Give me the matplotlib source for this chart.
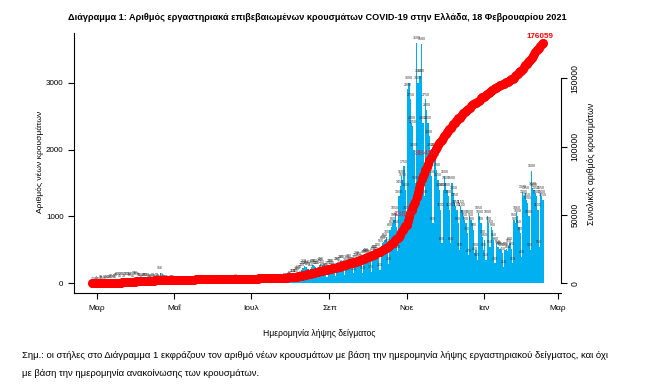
import numpy as np
import pandas as pd
import matplotlib
matplotlib.use("Agg")
import matplotlib.pyplot as plt
import matplotlib.dates as mdates

plt.rcParams["font.family"] = ["Liberation Sans", "DejaVu Sans"]

# daily new cases by sampling date, one list per month
feb20 = [1, 2, 0, 4]
mar20 = [2, 0, 3, 19, 15, 9, 32, 7, 20, 26, 18, 37, 32, 41, 25, 60, 65, 70, 45, 70,
         75, 38, 71, 70, 72, 75, 60, 70, 45, 80, 70]
apr20 = [80, 75, 50, 50, 22, 62, 60, 56, 50, 60, 40, 20, 45, 60, 40, 25, 50, 40, 18, 156,
         55, 45, 22, 28, 25, 12, 13, 26, 21, 20]
may20 = [15, 10, 4, 9, 14, 12, 16, 15, 8, 3, 11, 16, 10, 13, 9, 5, 2, 13, 17, 21,
         9, 12, 6, 3, 8, 10, 12, 11, 7, 4, 2]
jun20 = [10, 13, 15, 12, 8, 11, 4, 14, 17, 10, 12, 11, 16, 3, 8, 9, 18, 22, 33, 14,
         6, 19, 27, 20, 15, 18, 21, 11, 24, 26]
jul20 = [18, 25, 30, 22, 9, 27, 33, 25, 31, 24, 37, 10, 28, 29, 26, 19, 27, 31, 12, 33,
         40, 35, 28, 36, 41, 16, 45, 50, 57, 48, 70]
aug20 = [90, 45, 110, 120, 115, 150, 160, 170, 80, 200, 230, 260, 240, 250, 220, 110, 210, 250, 270, 260,
         240, 230, 100, 280, 290, 250, 210, 200, 190, 90, 230]
sep20 = [270, 260, 230, 200, 190, 110, 290, 300, 250, 330, 320, 240, 130, 280, 330, 340, 300, 290, 250, 150,
         320, 350, 380, 370, 340, 300, 160, 400, 420, 430]
oct20 = [420, 400, 330, 170, 450, 480, 470, 440, 500, 400, 200, 560, 610, 620, 650, 700, 560, 290, 800, 850,
         900, 950, 1050, 850, 480, 1300, 1450, 1600, 1550, 1750, 1400]
nov20 = [1050, 2900, 3000, 2750, 2400, 2350, 2000, 1500, 3600, 3000, 3100, 3100, 3580, 2400, 1300, 2750, 2600, 2400, 2200, 2000,
         1600, 900, 2000, 1850, 1700, 1550, 1400, 1100, 600, 1400]
dec20 = [1600, 1500, 1400, 1300, 1100, 600, 1500, 1350, 1250, 1150, 1100, 900, 500, 1150, 1100, 1000, 950, 900, 750, 420,
         1000, 950, 900, 800, 450, 500, 350, 1050, 1000, 900, 700]
jan21 = [500, 650, 350, 1000, 900, 550, 850, 800, 650, 300, 600, 550, 540, 520, 500, 450, 250, 500, 520, 480,
         560, 600, 520, 300, 950, 900, 1060, 1008, 850, 750, 400]
feb21 = [1370, 1300, 1350, 1250, 1200, 1000, 500, 1680, 1420, 1400, 1350, 1300, 1100, 550, 1350, 1300, 1250]

first_day = "2020-02-26"
tick_dates = ["2020-03-01", "2020-05-01", "2020-07-01", "2020-09-01", "2020-11-01", "2021-01-01", "2021-03-01"]
tick_names = ["Μαρ", "Μαΐ", "Ιουλ", "Σεπ", "Νοε", "Ιαν", "Μαρ"]
left_ticks = [0, 1000, 2000, 3000]
right_ticks = [0, 50000, 100000, 150000]
marks = [("2020-11-01", "43850"), ("2020-11-18", "88450")]
last_label = "176059"

new_cases = np.array(feb20 + mar20 + apr20 + may20 + jun20 + jul20 + aug20 + sep20
                     + oct20 + nov20 + dec20 + jan21 + feb21)
days = pd.date_range(first_day, periods=len(new_cases), freq="D")
total = np.cumsum(new_cases)
xd = mdates.date2num(days)

W, H = 650, 387
fig = plt.figure(figsize=(W / 100, H / 100), dpi=100)
ax = fig.add_axes([74 / W, 1 - 293 / H, (561 - 74) / W, (293 - 33) / H])

ax.bar(xd, new_cases, width=1.0, color="#00b0f0", linewidth=0, zorder=1)
for x, v in zip(xd, new_cases):
    ax.text(x, v + 40, str(v), fontsize=2.6, color="#333333", ha="center", va="bottom", zorder=2)

span = xd[-1] - xd[0]
ax.set_xlim(xd[0] - 0.04 * span, xd[-1] + 0.04 * span)
ymax = new_cases.max()
ax.set_ylim(-0.04 * ymax, 1.04 * ymax)
ax.set_xticks(mdates.date2num(pd.to_datetime(tick_dates)))
ax.set_xticklabels(tick_names)
ax.set_yticks(left_ticks)
ax.tick_params(axis="x", length=4, width=0.8, labelsize=6, pad=4.5)
ax.tick_params(axis="y", length=4, width=0.8, labelsize=5.8, pad=3.5)
for s in ["top", "right"]:
    ax.spines[s].set_visible(False)
for s in ["left", "bottom"]:
    ax.spines[s].set_linewidth(0.8)

ax2 = ax.twinx()
ax2.plot(xd, total, color="red", lw=5, marker="o", ms=5.5, zorder=3, solid_capstyle="round")
tmax = total.max()
ax2.set_ylim(-0.04 * tmax, 1.04 * tmax)
ax2.set_yticks(right_ticks)
ax2.set_yticklabels([str(t) for t in right_ticks], rotation=90, va="center")
ax2.tick_params(axis="y", length=4, width=0.8, labelsize=6.2, pad=3)
for s in ["top", "left", "bottom"]:
    ax2.spines[s].set_visible(False)
ax2.spines["right"].set_bounds(0, 150000)
ax2.spines["right"].set_linewidth(0.8)

for d, lab in marks:
    i = days.get_loc(pd.Timestamp(d))
    ax2.annotate(lab, (xd[i], total[i]), xytext=(-1.5, 7), textcoords="offset points",
                 ha="center", va="center", fontsize=6, color="#cc2a3a", zorder=4)
ax2.annotate(last_label, (xd[-1], total[-1]), xytext=(-2, 2), textcoords="offset points",
             ha="center", va="bottom", fontsize=5.8, color="red", fontweight="bold")

fig.text(317 / W, 1 - 17 / H,
         "Διάγραμμα 1: Αριθμός εργαστηριακά επιβεβαιωμένων κρουσμάτων COVID-19 στην Ελλάδα, 18 Φεβρουαρίου 2021",
         ha="center", va="center", fontsize=6.55, fontweight="bold")
fig.text(40 / W, 1 - 162 / H, "Αριθμός νέων κρουσμάτων", rotation=90, ha="center", va="center", fontsize=6.1)
fig.text(592 / W, 1 - 164 / H, "Συνολικός αριθμός κρουσμάτων", rotation=90, ha="center", va="center", fontsize=6.2)
fig.text(319 / W, 1 - 334 / H, "Ημερομηνία λήψης δείγματος", ha="center", va="center", fontsize=6.2)
fig.text(22 / W, 1 - 356 / H,
         "Σημ.: οι στήλες στο Διάγραμμα 1 εκφράζουν τον αριθμό νέων κρουσμάτων με βάση την ημερομηνία λήψης "
         "εργαστηριακού δείγματος, και όχι", ha="left", va="center", fontsize=6.8)
fig.text(22 / W, 1 - 373 / H, "με βάση την ημερομηνία ανακοίνωσης των κρουσμάτων.",
         ha="left", va="center", fontsize=6.8)

fig.savefig("out.png", dpi=100)
